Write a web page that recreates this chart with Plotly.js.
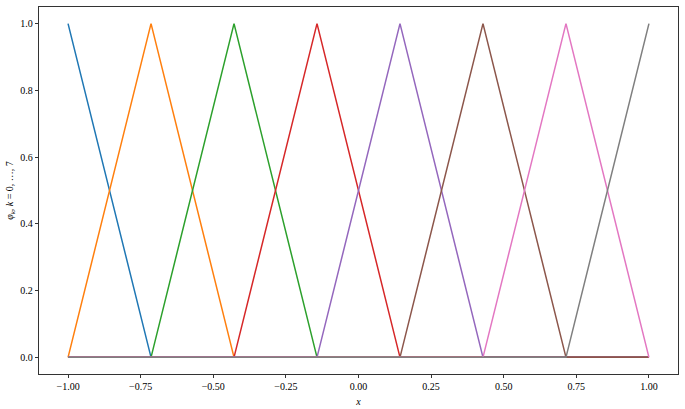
<!DOCTYPE html>
<html>
<head>
<meta charset="utf-8">
<script src="https://cdn.plot.ly/plotly-3.0.1.min.js"></script>
<style>
  html, body { margin: 0; padding: 0; background: #fff; }
  #plot { width: 685px; height: 409px; }
</style>
</head>
<body>
<div id="plot"></div>
<script>
// nodes of the hat basis on [-1, 1], 7 intervals
const nodes = [-1, -5/7, -3/7, -1/7, 1/7, 3/7, 5/7, 1];

// phi_k values at the nodes, one array per basis function
const phi0 = [1, 0, 0, 0, 0, 0, 0, 0];
const phi1 = [0, 1, 0, 0, 0, 0, 0, 0];
const phi2 = [0, 0, 1, 0, 0, 0, 0, 0];
const phi3 = [0, 0, 0, 1, 0, 0, 0, 0];
const phi4 = [0, 0, 0, 0, 1, 0, 0, 0];
const phi5 = [0, 0, 0, 0, 0, 1, 0, 0];
const phi6 = [0, 0, 0, 0, 0, 0, 1, 0];
const phi7 = [0, 0, 0, 0, 0, 0, 0, 1];

const xTicks = [-1, -0.75, -0.5, -0.25, 0, 0.25, 0.5, 0.75, 1];
const yTicks = [0, 0.2, 0.4, 0.6, 0.8, 1.0];

const colors = ['#1f77b4', '#ff7f0e', '#2ca02c', '#d62728',
                '#9467bd', '#8c564b', '#e377c2', '#7f7f7f'];

const allPhi = [phi0, phi1, phi2, phi3, phi4, phi5, phi6, phi7];

const data = allPhi.map((ys, k) => ({
  x: nodes,
  y: ys,
  type: 'scatter',
  mode: 'lines',
  name: 'phi' + k,
  line: { color: colors[k], width: 1.5 },
  hoverinfo: 'skip'
}));

const font = { family: '"Liberation Serif", "DejaVu Serif", serif', size: 10, color: '#000' };

const layout = {
  width: 685,
  height: 409,
  margin: { l: 39, r: 7, t: 7, b: 35 },
  paper_bgcolor: '#fff',
  plot_bgcolor: '#fff',
  showlegend: false,
  font: font,
  xaxis: {
    range: [-1.1, 1.1],
    tickvals: xTicks,
    ticktext: xTicks.map(v => v.toFixed(2).replace('-', '\u2212')),
    ticks: 'outside', ticklen: 3.5, tickwidth: 0.8, tickcolor: '#000',
    showgrid: false, zeroline: false,
    showline: true, mirror: true, linecolor: '#000', linewidth: 0.8,
    title: { text: '<i>x</i>', font: font, standoff: 6 }
  },
  yaxis: {
    range: [-0.05, 1.05],
    tickvals: yTicks,
    ticktext: yTicks.map(v => v.toFixed(1)),
    ticks: 'outside', ticklen: 3.5, tickwidth: 0.8, tickcolor: '#000',
    showgrid: false, zeroline: false,
    showline: true, mirror: true, linecolor: '#000', linewidth: 0.8,
    title: { text: '<i>φ</i><sub><i>k</i></sub>, <i>k</i> = 0, …, 7', font: font, standoff: 4 }
  }
};

Plotly.newPlot('plot', data, layout, { staticPlot: true, displayModeBar: false });
</script>
</body>
</html>
